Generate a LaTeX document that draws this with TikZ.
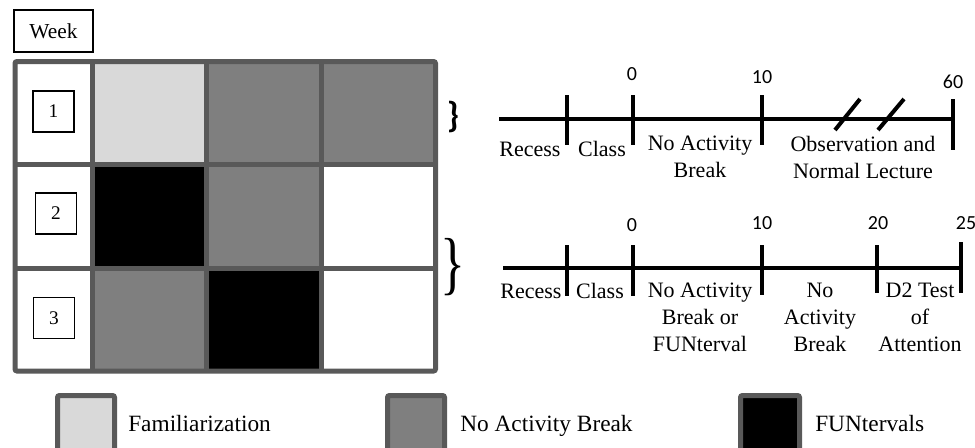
\documentclass[tikz,border=0pt]{standalone}
\usepackage{fontspec}
\setmainfont{Liberation Serif}
\newfontfamily\numfont{Carlito}
\usetikzlibrary{positioning}

\definecolor{gridgray}{HTML}{595959}
\definecolor{famgray}{HTML}{D9D9D9}
\definecolor{nabgray}{HTML}{7F7F7F}

\tikzset{
  cellline/.style={draw=gridgray, line width=3.75pt, rounded corners=1.5pt},
  weekbox/.style={draw=black, line width=1.1pt, fill=white, minimum width=30.5pt, minimum height=30.5pt, inner sep=0pt, font=\fontsize{14.5}{16}\selectfont},
  axis/.style={line width=3.3pt, black},
  tick/.style={line width=3pt, black},
  numlabel/.style={font=\numfont\fontsize{15}{17}\selectfont, inner sep=0pt, anchor=center},
  phaselabel/.style={font=\fontsize{16.5}{20}\selectfont, align=center, inner sep=0pt, anchor=base},
  legendbox/.style={draw=gridgray, line width=3.75pt, rounded corners=1.5pt},
  legendtext/.style={font=\fontsize{17.5}{20}\selectfont, inner sep=0pt, anchor=base west},
}

\begin{document}
\begin{tikzpicture}[x=0.75pt, y=-0.75pt]
\useasboundingbox (0,0) rectangle (975,447);
\fill[white] (0,0) rectangle (975,447);

% ---- week header
\node[draw=black, line width=1.1pt, minimum width=59pt, minimum height=31.5pt, inner sep=0pt,
      font=\fontsize{16}{18}\selectfont] (week) at (53.5,31) {Week};

% ---- schedule grid: cell fills
\fill[white]   (15,61.5)    rectangle (92.5,371);
\fill[famgray] (92.5,61.5)  rectangle (206.5,164.5);
\fill[nabgray] (206.5,61.5) rectangle (435.5,164.5);
\fill[black]   (92.5,164.5) rectangle (206.5,268);
\fill[nabgray] (206.5,164.5) rectangle (321,268);
\fill[white]   (321,164.5)  rectangle (435.5,371);
\fill[nabgray] (92.5,268)   rectangle (206.5,371);
\fill[black]   (206.5,268)  rectangle (321,371);

% ---- schedule grid: lines
\draw[cellline] (15,61.5) rectangle (435.5,371);
\draw[draw=gridgray, line width=3.75pt]
  (92.5,61.5) -- (92.5,371)
  (206.5,61.5) -- (206.5,371)
  (321,61.5) -- (321,371)
  (15,164.5) -- (435.5,164.5)
  (15,268) -- (435.5,268);

% ---- week numbers
\node[weekbox] (w1) at (53.5,111.5) {1};
\node[weekbox] (w2) at (56,213.5) {2};
\node[weekbox] (w3) at (54,318) {3};

% ---- braces
\node[inner sep=0pt, font=\numfont\bfseries\fontsize{27}{30}\selectfont] (brace1) at (453,117) {\}};
\node[inner sep=0pt, xscale=0.75, font=\fontsize{52}{56}\selectfont] (brace2) at (453,267) {\}};

% ---- timeline for week 1
\coordinate (a0) at (499,119);
\coordinate (a4) at (953,119);
\draw[axis] (a0) -- (a4);
\draw[tick] (567,95) -- (567,145);
\draw[tick] (633,95) -- (633,145);
\draw[tick] (762,95) -- (762,145);
\draw[tick] (953,99) -- (953,150);
\draw[tick] (835,130) -- (860,99);
\draw[tick] (878,130) -- (904,99);

\node[numlabel] (t1n0)  at (632,74) {0};
\node[numlabel] (t1n10) at (762,77) {10};
\node[numlabel] (t1n60) at (953,82) {60};

% multi-line labels are placed by the baseline of their last line
\node[phaselabel] (t1recess) at (530,156) {Recess};
\node[phaselabel] (t1class)  at (602,156) {Class};
\node[phaselabel] (t1break)  at (700,177) {No Activity\\Break};
\node[phaselabel] (t1obs)    at (863,178) {Observation and\\Normal Lecture};

% ---- timeline for weeks 2 and 3
\coordinate (b0) at (503,268);
\coordinate (b5) at (961,268);
\draw[axis] (b0) -- (b5);
\draw[tick] (567,245) -- (567,296);
\draw[tick] (633,245) -- (633,296);
\draw[tick] (762,245) -- (762,295);
\draw[tick] (877,245) -- (877,293);
\draw[tick] (961,242) -- (961,293);

\node[numlabel] (t2n0)  at (632,225) {0};
\node[numlabel] (t2n10) at (762,223) {10};
\node[numlabel] (t2n20) at (878,223) {20};
\node[numlabel] (t2n25) at (966,223) {25};

\node[phaselabel] (t2recess) at (531,298) {Recess};
\node[phaselabel] (t2class)  at (600,298) {Class};
\node[phaselabel] (t2break)  at (700,351) {No Activity\\Break or\\FUNterval};
\node[phaselabel] (t2nab)    at (820,351) {No\\Activity\\Break};
\node[phaselabel] (t2d2)     at (920,351) {D2 Test\\of\\Attention};

% ---- legend
\begin{scope}
\clip (0,0) rectangle (975,447);
\draw[legendbox, fill=famgray] (57.5,395.5)  rectangle (114.5,460);
\draw[legendbox, fill=nabgray] (387.5,395.5) rectangle (444.5,460);
\draw[legendbox, fill=black]   (740.5,395.5) rectangle (799.5,460);
\end{scope}
\node[legendtext] (lfam) at (128,431) {Familiarization};
\node[legendtext] (lnab) at (460,431) {No Activity Break};
\node[legendtext] (lfun) at (815,431) {FUNtervals};
\end{tikzpicture}
\end{document}
